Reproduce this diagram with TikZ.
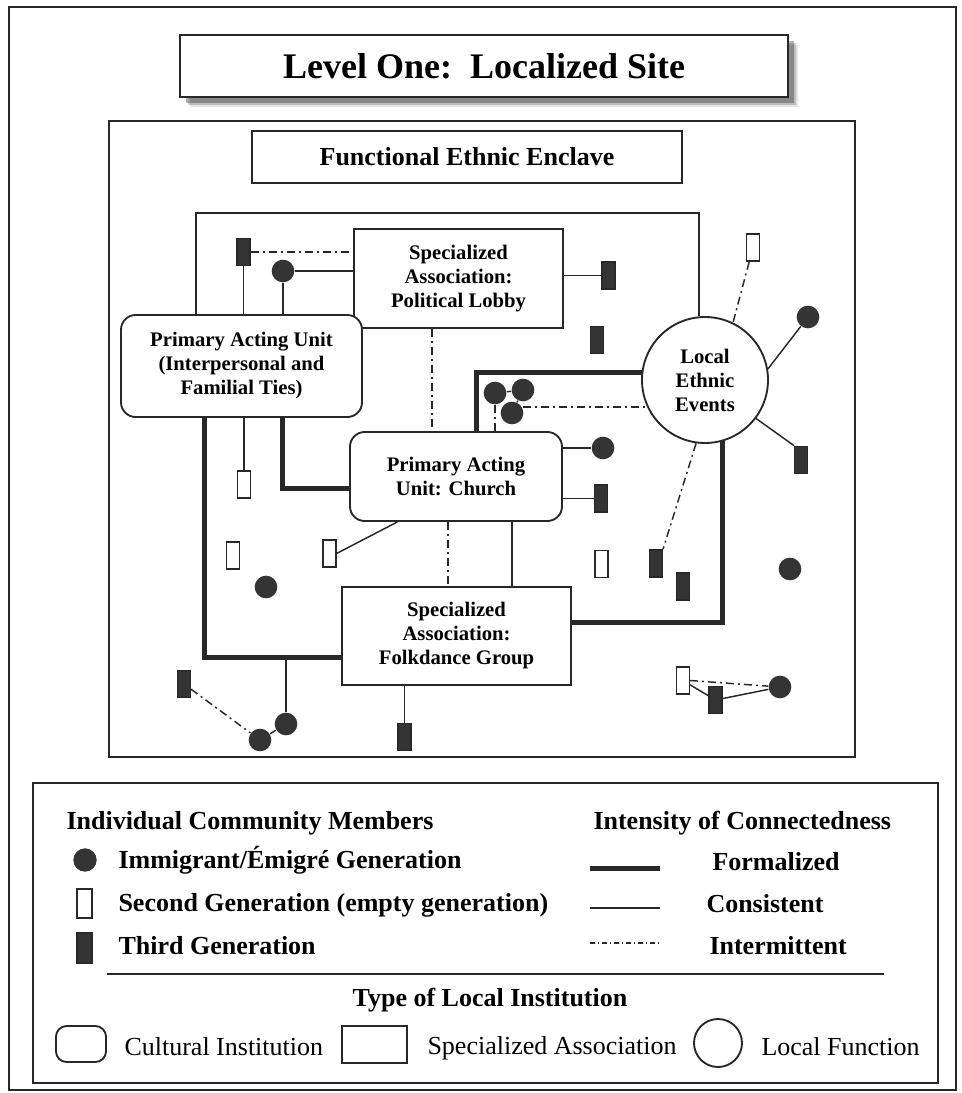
\documentclass[tikz,border=0pt]{standalone}
\usepackage{fontspec}
\setmainfont{Liberation Serif}
\usetikzlibrary{calc}

\definecolor{ink}{RGB}{40,40,40}
\definecolor{member}{RGB}{52,52,52}
\tikzset{every picture/.style={line width=0.75pt}}
\tikzset{
  formal/.style={line width=3.75pt, color=ink},
  consist/.style={line width=1.1pt, color=ink},
  intermit/.style={line width=1.1pt, color=ink, dash pattern=on 6pt off 3pt on 1.5pt off 3pt},
  instbox/.style={draw=ink, line width=1.4pt, fill=white, align=center, inner sep=0pt, font=\bfseries\fontsize{15.5}{18}\selectfont},
  immgen/.style={circle, fill=member, minimum size=17pt, inner sep=0pt},
  secgen/.style={draw=ink, line width=1.1pt, fill=white, minimum width=9.5pt, minimum height=20.5pt, inner sep=0pt},
  thirdgen/.style={secgen, fill=member},
  legtext/.style={anchor=west, inner sep=0pt, font=\bfseries\fontsize{19.5}{22}\selectfont},
  legplain/.style={anchor=west, inner sep=0pt, font=\fontsize{19.5}{22}\selectfont},
}

\begin{document}
\begin{tikzpicture}[x=0.75pt,y=0.75pt,yscale=-1,xscale=1]
	\useasboundingbox (0,0) rectangle (961,1093);

	%Shape: Rectangle (outer frame)
	\draw [ink, line width=1.1pt] (9,7) rectangle (956,1090);

	%Shadow of the title
	\foreach \d/\o in {10/0.1,8/0.18,6/0.28} {
		\fill [black, opacity=\o] (180+\d,35+\d) rectangle (788+\d,97+\d);
	}
	% Title
	\node [instbox, minimum width=456pt, minimum height=46.5pt, font=\bfseries\fontsize{27}{30}\selectfont] (title) at (484,66) {Level One:\ \ Localized Site};

	%Shape: Rectangle (enclave)
	\draw [ink, line width=1.4pt] (109,121) rectangle (855,757);
	\node [instbox, minimum width=322.5pt, minimum height=39pt, font=\bfseries\fontsize{19.5}{22}\selectfont] (fee) at (467,157) {Functional Ethnic Enclave};

	% Institutions
	\node [instbox, minimum width=156.75pt, minimum height=74.25pt] (pol) at (458.5,278.5) {Specialized\\Association:\\Political Lobby};
	\node [instbox, rounded corners=11pt, minimum width=180.75pt, minimum height=76.5pt] (pau) at (241.5,366) {Primary Acting Unit\\(Interpersonal and\\Familial Ties)};
	\node [instbox, rounded corners=11pt, minimum width=159pt, minimum height=66.75pt] (chu) at (456,476.5) {Primary Acting\\Unit: Church};
	\node [instbox, minimum width=171.75pt, minimum height=73.5pt] (fdg) at (456.5,636) {Specialized\\Association:\\Folkdance Group};
	\node [instbox, circle, minimum size=94.5pt] (lee) at (705,380) {Local\\Ethnic\\Events};

	% Immigrant / Emigre generation
	\node [immgen] (c1) at (283,271) {};
	\node [immgen] (c2) at (808,317) {};
	\node [immgen] (c3) at (495,393) {};
	\node [immgen] (c4) at (523,390) {};
	\node [immgen] (c5) at (512,413) {};
	\node [immgen] (c6) at (603,448) {};
	\node [immgen] (c7) at (266,587) {};
	\node [immgen] (c8) at (286,724) {};
	\node [immgen] (c9) at (260,740) {};
	\node [immgen] (c10) at (790,569) {};
	\node [immgen] (c11) at (780,687) {};
	% Second generation
	\node [secgen] (s1) at (244,484.5) {};
	\node [secgen] (s2) at (753,247.5) {};
	\node [secgen] (s3) at (601.5,564) {};
	\node [secgen] (s4) at (329.5,553.5) {};
	\node [secgen] (s5) at (233,555.5) {};
	\node [secgen] (s6) at (683,680.5) {};
	% Third generation
	\node [thirdgen] (t1) at (243.5,252) {};
	\node [thirdgen] (t2) at (608.5,275.5) {};
	\node [thirdgen] (t3) at (597,340) {};
	\node [thirdgen] (t4) at (801,460) {};
	\node [thirdgen] (t5) at (601,498.5) {};
	\node [thirdgen] (t6) at (656,563.5) {};
	\node [thirdgen] (t7) at (683,586.5) {};
	\node [thirdgen] (t8) at (184,684) {};
	\node [thirdgen] (t9) at (404.5,737) {};
	\node [thirdgen] (t10) at (715.5,700) {};

	% Helper points
	\coordinate (in1) at (196,213);
	\coordinate (in2) at (699,213);
	\coordinate (f1) at (476,372);
	\coordinate (f2) at (722,622);
	\coordinate (f3) at (204,657);
	\coordinate (f4) at (282,488);
	\coordinate (v1) at (512,0);
	\coordinate (v2) at (432,0);
	\coordinate (v3) at (448,0);

	%Straight Lines (inner frame)
	\draw [consist] (pau.north -| in1) -- (in1) -- (in2) -- (lee.north -| in2);

	%Formalized ties
	\draw [formal] (chu.north -| f1) -- (f1) -- (f1 -| lee.173);
	\draw [formal] (lee.-74) -- (lee.-74 |- f2) -- (f2 -| fdg.east);
	\draw [formal] (pau.south -| f3) -- (f3) -- (f3 -| fdg.west);
	\draw [formal] (pau.south -| f4) -- (f4) -- (f4 -| chu.west);

	%Consistent ties
	\draw [consist] (t1) -- (t1 |- pau.north);
	\draw [consist] (c1) -- (c1 -| pol.west);
	\draw [consist] (c1) -- (c1 |- pau.north);
	\draw [consist] (t2 -| pol.east) -- (t2);
	\draw [consist] (lee.10) -- (c2);
	\draw [consist] (lee.-37) -- (t4.north west);
	\draw [consist] (c3) -- (c4);
	\draw [consist] (c4) -- (c5);
	\draw [consist] (c6 -| chu.east) -- (c6);
	\draw [consist] (t5 -| chu.east) -- (t5);
	\draw [consist] (chu.south -| v1) -- (fdg.north -| v1);
	\draw [consist] ($(chu.south west)!0.226!(chu.south east)$) -- (s4.east);
	\draw [consist] (t9 |- fdg.south) -- (t9);
	\draw [consist] (c8 |- f3) -- (c8);
	\draw [consist] (c8) -- (c9);
	\draw [consist] (s1 |- pau.south) -- (s1);
	\draw [consist] (s6) -- (t10);
	\draw [consist] (t10) -- (c11);

	%Intermittent ties
	\draw [intermit] (t1) -- (t1 -| pol.west);
	\draw [intermit] (pol.south -| v2) -- (chu.north -| v2);
	\draw [intermit] (s2) -- (lee.64);
	\draw [intermit] (c5.20 |- lee.-155) -- (lee.-155);
	\draw [intermit] (c3) -- (c3 |- chu.north);
	\draw [intermit] (lee.-98) -- (t6.north east);
	\draw [intermit] (chu.south -| v3) -- (fdg.north -| v3);
	\draw [intermit] (t8) -- (c9);
	\draw [intermit] (s6.east) -- (c11);

	%Shape: Rectangle (legend)
	\draw [ink, line width=1.4pt] (33,783) rectangle (938,1083);

	% Text Node
	\node [legtext] (lmem) at (66,823) {Individual Community Members};
	\node [legtext] (lint) at (593,823) {Intensity of Connectedness};
	\node [immgen, minimum size=17.5pt] (limm) at (85,860) {};
	\node [legtext] (limmt) at (118,860) {Immigrant/Émigré Generation};
	\node [secgen, minimum width=11pt, minimum height=21.75pt] (lsec) at (84.5,903.5) {};
	\node [legtext] (lsect) at (118,905) {Second Generation (empty generation)};
	\node [thirdgen, minimum width=11pt, minimum height=22.5pt] (lthd) at (84.5,948) {};
	\node [legtext] (lthdt) at (118,946) {Third Generation};

	\coordinate (lf1) at (590,868);
	\coordinate (lf2) at (660,868);
	\coordinate (lc1) at (590,908);
	\coordinate (lc2) at (660,908);
	\coordinate (li1) at (590,943);
	\coordinate (li2) at (660,943);
	\draw [formal] (lf1) -- (lf2);
	\draw [consist] (lc1) -- (lc2);
	\draw [intermit, line width=0.8pt, dash pattern=on 4pt off 2pt on 1pt off 2pt] (li1) -- (li2);
	\node [legtext] (lfor) at (712,862) {Formalized};
	\node [legtext] (lcon) at (706,904) {Consistent};
	\node [legtext] (lmit) at (709,946) {Intermittent};

	\coordinate (sep1) at (107,974);
	\coordinate (sep2) at (884,974);
	\draw [ink, line width=1.1pt] (sep1) -- (sep2);
	\node [font=\bfseries\fontsize{19.5}{22}\selectfont] (ltyp) at (490,1000) {Type of Local Institution};

	\node [draw=ink, line width=1.4pt, rounded corners=8pt, minimum width=37.5pt, minimum height=27pt] (lcul) at (81,1044) {};
	\node [legplain] (lcult) at (124,1047) {Cultural Institution};
	\node [draw=ink, line width=1.4pt, minimum width=48.75pt, minimum height=27.75pt] (lspe) at (374.5,1044.5) {};
	\node [legplain] (lspet) at (427,1048) {Specialized Association};
	\node [draw=ink, line width=1.4pt, circle, minimum size=36pt] (lfun) at (718,1043) {};
	\node [legplain] (lfunt) at (761,1047) {Local Function};

\end{tikzpicture}
\end{document}
